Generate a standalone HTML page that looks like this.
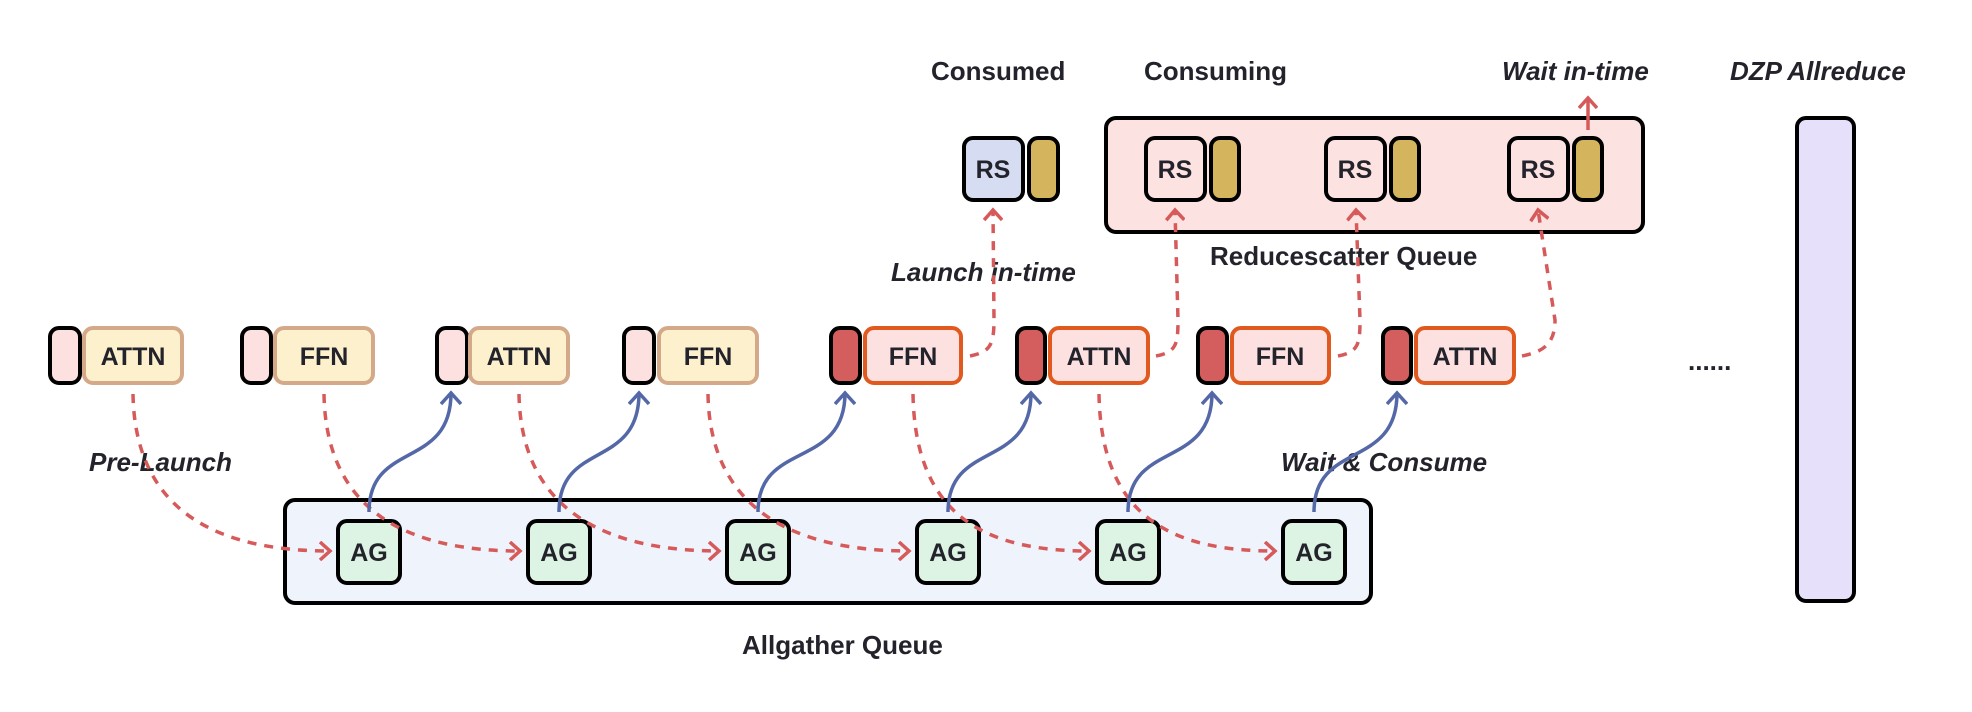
<!DOCTYPE html>
<html><head><meta charset="utf-8"><style>
html,body{margin:0;padding:0;background:#fff;}
svg{display:block;}
text{font-family:"Liberation Sans",sans-serif;font-weight:bold;fill:#23232b;}
</style></head><body>
<svg width="1972" height="712" viewBox="0 0 1972 712" xmlns="http://www.w3.org/2000/svg">
<defs>
<marker id="ar" markerWidth="16" markerHeight="20" refX="12" refY="10" orient="auto" markerUnits="userSpaceOnUse">
<path d="M2,1 L12,10 L2,19" fill="none" stroke="#d65a5a" stroke-width="3.5"/></marker>
<marker id="ab" markerWidth="18" markerHeight="22" refX="13" refY="11" orient="auto" markerUnits="userSpaceOnUse">
<path d="M2,1 L13,11 L2,21" fill="none" stroke="#5468a8" stroke-width="3.5"/></marker>
</defs>

<rect x="285" y="500" width="1086" height="103" rx="10" fill="#eef3fc" stroke="#000" stroke-width="4"/>
<rect x="1106" y="118" width="537" height="114" rx="10" fill="#fde2e2" stroke="#000" stroke-width="4"/>
<rect x="1797" y="118" width="57" height="483" rx="9" fill="#e7e0fb" stroke="#000" stroke-width="4"/>

<text x="931" y="80" font-size="26">Consumed</text>
<text x="1144" y="80" font-size="26">Consuming</text>
<text x="1502" y="80" font-size="26" font-style="italic">Wait in-time</text>
<text x="1730" y="80" font-size="26" font-style="italic">DZP Allreduce</text>
<text x="1210" y="265" font-size="26">Reducescatter Queue</text>
<text x="891" y="281" font-size="26" font-style="italic">Launch in-time</text>
<text x="89" y="471" font-size="26" font-style="italic">Pre-Launch</text>
<text x="1281" y="471" font-size="26" font-style="italic">Wait &amp; Consume</text>
<text x="742" y="654" font-size="26">Allgather Queue</text>
<text x="1688" y="370" font-size="26">......</text>

<g stroke="#000" stroke-width="4">
<rect x="964" y="138" width="59" height="62" rx="9" fill="#d6dcf2"/>
<rect x="1029" y="138" width="29" height="62" rx="9" fill="#d4b45c"/>
<rect x="1146" y="138" width="59" height="62" rx="9" fill="#fde2e2"/>
<rect x="1211" y="138" width="28" height="62" rx="9" fill="#d4b45c"/>
<rect x="1326" y="138" width="59" height="62" rx="9" fill="#fde2e2"/>
<rect x="1391" y="138" width="28" height="62" rx="9" fill="#d4b45c"/>
<rect x="1509" y="138" width="59" height="62" rx="9" fill="#fde2e2"/>
<rect x="1574" y="138" width="28" height="62" rx="9" fill="#d4b45c"/>
</g>
<g font-size="25" text-anchor="middle">
<text x="993" y="178">RS</text><text x="1175" y="178">RS</text><text x="1355" y="178">RS</text><text x="1538" y="178">RS</text>
</g>
<path d="M1588,130 L1588,98" stroke="#d65a5a" stroke-width="3.5" fill="none" marker-end="url(#ar)"/>

<g stroke-width="4">
<rect x="50" y="328" width="30" height="55" rx="9" fill="#fde0e0" stroke="#000"/>
<rect x="84" y="328" width="98" height="55" rx="9" fill="#fdf0cc" stroke="#d4a98a"/>
<rect x="242" y="328" width="29" height="55" rx="9" fill="#fde0e0" stroke="#000"/>
<rect x="275" y="328" width="98" height="55" rx="9" fill="#fdf0cc" stroke="#d4a98a"/>
<rect x="437" y="328" width="30" height="55" rx="9" fill="#fde0e0" stroke="#000"/>
<rect x="470" y="328" width="98" height="55" rx="9" fill="#fdf0cc" stroke="#d4a98a"/>
<rect x="624" y="328" width="30" height="55" rx="9" fill="#fde0e0" stroke="#000"/>
<rect x="659" y="328" width="98" height="55" rx="9" fill="#fdf0cc" stroke="#d4a98a"/>

<rect x="831" y="328" width="29" height="55" rx="9" fill="#d45d5d" stroke="#000"/>
<rect x="865" y="328" width="96" height="55" rx="9" fill="#fde0e0" stroke="#e05a20"/>
<rect x="1017" y="328" width="28" height="55" rx="9" fill="#d45d5d" stroke="#000"/>
<rect x="1050" y="328" width="98" height="55" rx="9" fill="#fde0e0" stroke="#e05a20"/>
<rect x="1198" y="328" width="29" height="55" rx="9" fill="#d45d5d" stroke="#000"/>
<rect x="1232" y="328" width="97" height="55" rx="9" fill="#fde0e0" stroke="#e05a20"/>
<rect x="1383" y="328" width="28" height="55" rx="9" fill="#d45d5d" stroke="#000"/>
<rect x="1416" y="328" width="98" height="55" rx="9" fill="#fde0e0" stroke="#e05a20"/>
</g>
<g font-size="25" text-anchor="middle">
<text x="133" y="365">ATTN</text><text x="324" y="365">FFN</text><text x="519" y="365">ATTN</text><text x="708" y="365">FFN</text>
<text x="913" y="365">FFN</text><text x="1099" y="365">ATTN</text><text x="1280" y="365">FFN</text><text x="1465" y="365">ATTN</text>
</g>

<g stroke="#d65a5a" stroke-width="3.5" stroke-dasharray="9,8" fill="none" marker-end="url(#ar)">
<path d="M970,356 C990,352 994,345 994,320 L993,210"/>
<path d="M1156,356 C1176,352 1178,345 1178,320 L1175,210"/>
<path d="M1338,356 C1358,352 1360,345 1360,320 L1356,210"/>
<path d="M1522,356 C1542,352 1555,345 1555,320 L1538,210"/>
</g>

<g stroke="#000" stroke-width="4" fill="#ddf3e3">
<rect x="338" y="521" width="62" height="62" rx="9"/>
<rect x="528" y="521" width="62" height="62" rx="9"/>
<rect x="727" y="521" width="62" height="62" rx="9"/>
<rect x="917" y="521" width="62" height="62" rx="9"/>
<rect x="1097" y="521" width="62" height="62" rx="9"/>
<rect x="1283" y="521" width="62" height="62" rx="9"/>
</g>
<g font-size="25" text-anchor="middle">
<text x="369" y="561">AG</text><text x="559" y="561">AG</text><text x="758" y="561">AG</text><text x="948" y="561">AG</text><text x="1128" y="561">AG</text><text x="1314" y="561">AG</text>
</g>

<g stroke="#d65a5a" stroke-width="3.5" stroke-dasharray="9,8" fill="none" marker-end="url(#ar)">
<path d="M133,394 C135,520 230,551 330,551"/>
<path d="M324,394 C326,520 420,551 520,551"/>
<path d="M519,394 C521,520 620,551 719,551"/>
<path d="M708,394 C710,520 810,551 909,551"/>
<path d="M913,394 C915,520 990,551 1089,551"/>
<path d="M1099,394 C1101,520 1175,551 1275,551"/>
</g>

<g stroke="#5468a8" stroke-width="3.5" fill="none" marker-end="url(#ab)">
<path d="M369,512 C369,440 451,470 451,393"/>
<path d="M559,512 C559,440 639,470 639,393"/>
<path d="M758,512 C758,440 845,470 845,393"/>
<path d="M948,512 C948,440 1031,470 1031,393"/>
<path d="M1128,512 C1128,440 1212,470 1212,393"/>
<path d="M1314,512 C1314,440 1397,470 1397,393"/>
</g>
</svg>
</body></html>
